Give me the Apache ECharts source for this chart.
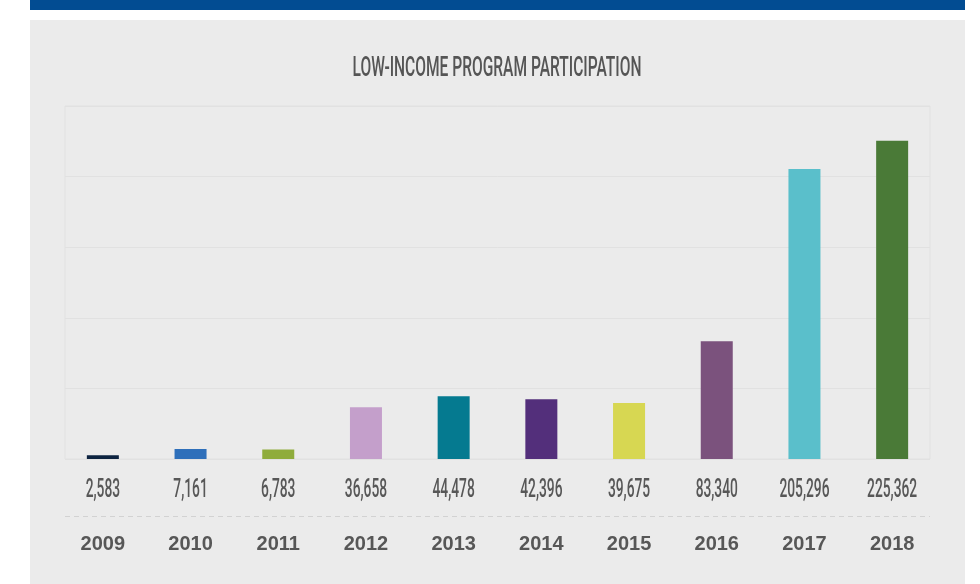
<!DOCTYPE html>
<html>
<head>
<meta charset="utf-8">
<title>Low-Income Program Participation</title>
<script src="https://cdn.jsdelivr.net/npm/echarts@6/dist/echarts.min.js"></script>
<style>
  html, body { margin: 0; padding: 0; background: #ffffff; }
  #chart { width: 980px; height: 584px; }
</style>
</head>
<body>
<div id="chart"></div>
<script>
// data
const years = ['2009', '2010', '2011', '2012', '2013', '2014', '2015', '2016', '2017', '2018'];
const participants = [2583, 7161, 6783, 36658, 44478, 42396, 39675, 83340, 205296, 225362];
const barColors = ['#0d2340', '#2e6fba', '#8fac3c', '#c49fcb', '#057a90',
                   '#532f7b', '#d7d752', '#7b527d', '#5abfcb', '#4a7a37'];

// no condensed font installed, so squeeze Roboto horizontally
const titleText = 'LOW-INCOME PROGRAM PARTICIPATION';
const titleFont = '500 28px Roboto, sans-serif';
const valueFont = '500 26px Roboto, sans-serif';
const valueSquash = 0.53;

function textWidth(text, font) {
  const ctx = document.createElement('canvas').getContext('2d');
  ctx.font = font;
  return ctx.measureText(text).width;
}
const titleSquash = 289 / textWidth(titleText, titleFont);

const chart = echarts.init(document.getElementById('chart'));

const option = {
  backgroundColor: '#ffffff',
  animation: false,
  graphic: [
    // top blue band + gray panel behind the chart
    { type: 'rect', z: -10, shape: { x: 30, y: 0, width: 935, height: 10 }, style: { fill: '#024c92' } },
    { type: 'rect', z: -10, shape: { x: 30, y: 20, width: 935, height: 564 }, style: { fill: '#ebebeb' } },
    // title
    {
      type: 'text', x: 497, y: 69, scaleX: titleSquash,
      style: { text: titleText, font: titleFont, fill: '#555555', align: 'center', verticalAlign: 'middle' }
    },
    // dashed divider between the values and the years
    {
      type: 'line', z: 5,
      shape: { x1: 65, y1: 516.5, x2: 930, y2: 516.5 },
      style: { stroke: '#d2d2d2', lineWidth: 1, lineDash: [5, 4] }
    }
  ],
  grid: [
    // box + gridlines
    { left: 65, right: 50, top: 106, bottom: 125, show: true, borderColor: '#e1e1e1', borderWidth: 1, backgroundColor: 'transparent' },
    // bars
    { left: 59, right: 44, top: 106, bottom: 125 }
  ],
  xAxis: [
    { gridIndex: 0, type: 'value', show: false },
    {
      gridIndex: 1,
      type: 'category',
      data: years,
      axisLine: { show: false },
      axisTick: { show: false },
      axisLabel: {
        margin: 75,
        fontFamily: '"Liberation Sans", Arial, sans-serif',
        fontWeight: 'bold',
        fontSize: 20,
        color: '#575757'
      }
    }
  ],
  yAxis: [
    {
      gridIndex: 0,
      type: 'value',
      min: 0,
      max: 250000,
      interval: 50000,
      axisLine: { show: false },
      axisTick: { show: false },
      axisLabel: { show: false },
      splitLine: { lineStyle: { color: '#e1e1e1', width: 1 } }
    },
    { gridIndex: 1, type: 'value', min: 0, max: 250000, show: false }
  ],
  series: [
    {
      type: 'bar',
      xAxisIndex: 1,
      yAxisIndex: 1,
      barWidth: 32,
      data: participants.map(function (v, i) {
        return { value: v, itemStyle: { color: barColors[i] } };
      })
    },
    {
      // value labels under the axis
      type: 'custom',
      xAxisIndex: 1,
      yAxisIndex: 1,
      silent: true,
      data: participants.map(function (v, i) { return [i, v]; }),
      renderItem: function (params, api) {
        const pt = api.coord([api.value(0), 0]);
        return {
          type: 'text',
          x: pt[0],
          y: pt[1] + 31,
          scaleX: valueSquash,
          style: {
            text: api.value(1).toLocaleString('en-US'),
            font: valueFont,
            fill: '#575757',
            align: 'center',
            verticalAlign: 'middle'
          }
        };
      }
    }
  ]
};

chart.setOption(option);
</script>
</body>
</html>
